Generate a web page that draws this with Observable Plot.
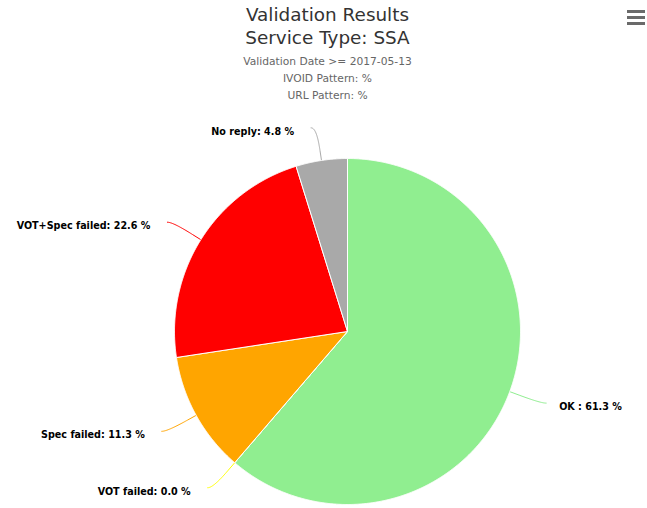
<!DOCTYPE html>
<html>
<head>
<meta charset="utf-8">
<script src="https://cdn.jsdelivr.net/npm/d3@7"></script>
<script src="https://cdn.jsdelivr.net/npm/@observablehq/plot@0.6"></script>
<style>
html, body { margin: 0; padding: 0; background: #fff; overflow: hidden; }
#wrap { position: relative; width: 647px; height: 508px; font-family: "DejaVu Sans", Verdana, sans-serif; }
#head { position: relative; width: 647px; height: 110px; }
.t { position: absolute; left: 0; width: 655px; text-align: center; white-space: nowrap; }
.title { font-size: 18.4px; line-height: 22px; color: #333; }
.sub { font-size: 10.7px; line-height: 14px; color: #666; }
#menu { position: absolute; left: 627px; top: 10px; width: 18px; height: 16px; }
#menu div { position: absolute; left: 0; width: 18px; height: 3px; background: #6a6a6a; }
</style>
</head>
<body>
<div id="wrap">
  <div id="head">
    <div class="t title" style="top:4px">Validation Results</div>
    <div class="t title" style="top:27px">Service Type: SSA</div>
    <div class="t sub" style="top:55px">Validation Date &gt;= 2017-05-13</div>
    <div class="t sub" style="top:72px">IVOID Pattern: %</div>
    <div class="t sub" style="top:89px">URL Pattern: %</div>
    <div id="menu"><div style="top:0px"></div><div style="top:6px"></div><div style="top:12px"></div></div>
  </div>
  <div id="chart"></div>
</div>
<script>
// ---- data ----
const categories = ["OK ", "VOT failed", "Spec failed", "VOT+Spec failed", "No reply"];
const percents = [61.3, 0.0, 11.3, 22.6, 4.8];
const sliceColors = ["#90EE90", "#FFFF00", "#FFA500", "#FF0000", "#A9A9A9"];

// ---- layout ----
const W = 647, H = 398;
const CX = 347, CY = 221, R = 173;
const DIST = 33, OFF = 5.5;

const total = d3.sum(percents);
let acc = 0;
const slices = categories.map((c, i) => {
  const a0 = acc / total * 2 * Math.PI;
  acc += percents[i];
  const a1 = acc / total * 2 * Math.PI;
  return {category: c, value: percents[i], a0, a1, mid: (a0 + a1) / 2};
});
const pt = (a, rad) => [rad * Math.sin(a), rad * Math.cos(a)];

const polys = slices.flatMap(s => {
  const n = Math.max(2, Math.ceil((s.a1 - s.a0) / (Math.PI / 720)));
  const pts = [[0, 0]];
  for (let k = 0; k <= n; k++) pts.push(pt(s.a0 + (s.a1 - s.a0) * k / n, R));
  pts.push([0, 0]);
  return pts.map(([x, y]) => ({category: s.category, x, y}));
});

const labels = slices.map(s => {
  const side = Math.sin(s.mid) < 0 ? -1 : 1;
  const ly = (R + DIST) * Math.cos(s.mid);
  const lx = side * (Math.sqrt(Math.max(0, (R + DIST) ** 2 - ly ** 2)) + OFF);
  const gap = side < 0 ? 17 : 13;
  return {...s, side, lx, ly, tx: lx + side * gap, ty: ly - 4,
          text: `${s.category}: ${s.value.toFixed(1)} %`};
});

const connectors = labels.flatMap(l => {
  const E = pt(l.mid, R), B = pt(l.mid, R + 10);
  const P0 = [l.lx, l.ly], P1 = [l.lx - l.side * 5, l.ly];
  const P2 = [2 * B[0] - E[0], 2 * B[1] - E[1]], P3 = B;
  const pts = d3.range(0, 31).map(k => {
    const t = k / 30, u = 1 - t;
    const b = [u*u*u, 3*u*u*t, 3*u*t*t, t*t*t];
    return [b[0]*P0[0] + b[1]*P1[0] + b[2]*P2[0] + b[3]*P3[0],
            b[0]*P0[1] + b[1]*P1[1] + b[2]*P2[1] + b[3]*P3[1]];
  });
  pts.push(E);
  return pts.map(([x, y]) => ({category: l.category, x, y}));
});

const textOpts = {x: "tx", y: "ty", text: "text", fontSize: 9.6, fontWeight: "bold",
                  fill: "#000", stroke: "#fff", strokeWidth: 2, lineAnchor: "middle"};

const chart = Plot.plot({
  width: W, height: H, margin: 0,
  x: {domain: [-R, R], range: [CX - R, CX + R], axis: null},
  y: {domain: [-R, R], range: [CY + R, CY - R], axis: null},
  color: {domain: categories, range: sliceColors},
  style: {fontFamily: "DejaVu Sans, Verdana, sans-serif", background: "#fff", overflow: "visible"},
  marks: [
    Plot.line(connectors, {x: "x", y: "y", z: "category", stroke: "category", strokeWidth: 1}),
    Plot.line(polys, {x: "x", y: "y", z: "category", fill: "category", stroke: "#fff",
                      strokeWidth: 1, strokeLinejoin: "round"}),
    Plot.text(labels.filter(l => l.side < 0), {...textOpts, textAnchor: "end"}),
    Plot.text(labels.filter(l => l.side > 0), {...textOpts, textAnchor: "start"})
  ]
});
document.getElementById("chart").appendChild(chart);
</script>
</body>
</html>
